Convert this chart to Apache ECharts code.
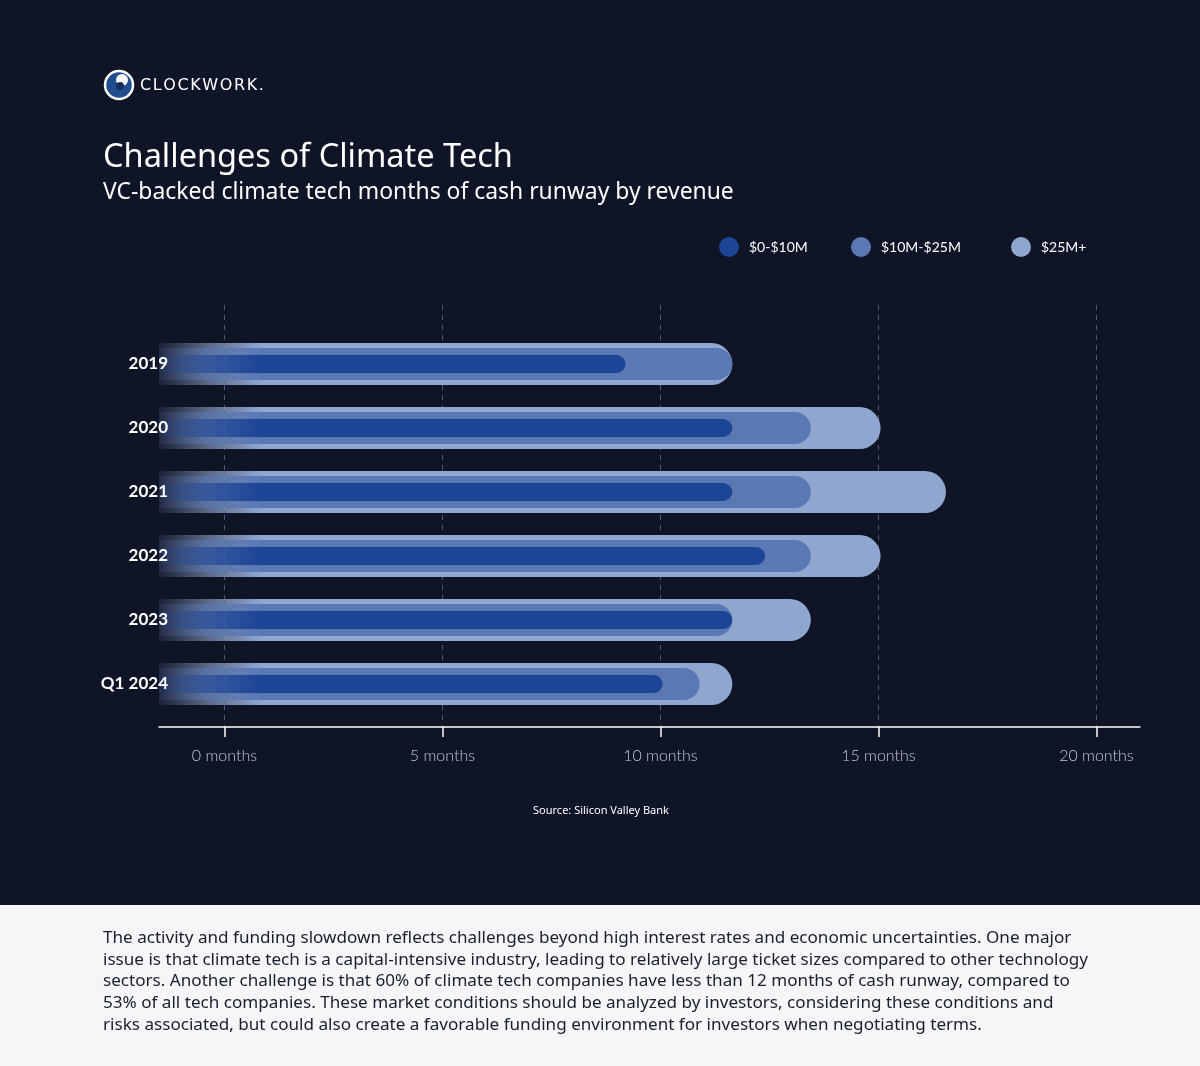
<!DOCTYPE html>
<html><head><meta charset="utf-8">
<script src="https://cdn.jsdelivr.net/npm/echarts@6/dist/echarts.min.js"></script>
<style>html,body{margin:0;padding:0;background:#101427}#c{width:1200px;height:1066px}</style>
</head><body><div id="c"></div>
<script>
const categories = ['2019', '2020', '2021', '2022', '2023', 'Q1 2024'];
const seriesNames = ['$0-$10M', '$10M-$25M', '$25M+'];
const runway0to10 = [9.2, 11.65, 11.65, 12.4, 11.65, 10.05];
const runway10to25 = [11.65, 13.45, 13.45, 13.45, 11.65, 10.9];
const runway25plus = [11.65, 15.05, 16.55, 15.05, 13.45, 11.65];
const tickValues = [0, 5, 10, 15, 20];
const AXIS_MIN = -1.5, AXIS_MAX = 21;

const paragraph = [
  'The activity and funding slowdown reflects challenges beyond high interest rates and economic uncertainties. One major',
  'issue is that climate tech is a capital-intensive industry, leading to relatively large ticket sizes compared to other technology',
  'sectors. Another challenge is that 60% of climate tech companies have less than 12 months of cash runway, compared to',
  '53% of all tech companies. These market conditions should be analyzed by investors, considering these conditions and',
  'risks associated, but could also create a favorable funding environment for investors when negotiating terms.'
];

const colors = { dark: [29, 69, 150], mid: [91, 120, 180], light: [143, 166, 207] };
function rgba(c, a) { return 'rgba(' + c[0] + ',' + c[1] + ',' + c[2] + ',' + a + ')'; }
function fade(c) {
  return new echarts.graphic.LinearGradient(150, 0, 262, 0, [
    { offset: 0, color: rgba(c, 0) },
    { offset: 0.55, color: rgba(c, 0.62) },
    { offset: 1, color: rgba(c, 1) }
  ], true);
}

const levels = [
  { name: seriesNames[2], data: runway25plus, c: colors.light, w: 42, axis: 0 },
  { name: seriesNames[1], data: runway10to25, c: colors.mid, w: 32, axis: 1 },
  { name: seriesNames[0], data: runway0to10, c: colors.dark, w: 18, axis: 2 }
];

const series = [];
levels.forEach(function (lv, i) {
  series.push({
    name: 'lead' + i, type: 'bar', xAxisIndex: 1, yAxisIndex: lv.axis, stack: 's' + i,
    barWidth: lv.w, data: categories.map(function () { return AXIS_MIN; }),
    itemStyle: { color: fade(lv.c), borderRadius: 0 }, silent: true
  });
  series.push({
    name: lv.name, type: 'bar', xAxisIndex: 1, yAxisIndex: lv.axis, stack: 's' + i,
    barWidth: lv.w, data: lv.data,
    itemStyle: { color: fade(lv.c), borderRadius: [0, lv.w / 2, lv.w / 2, 0] }, silent: true
  });
});

const chart = echarts.init(document.getElementById('c'), null, { renderer: 'canvas' });
const hs = '\u200A';
const graphic = [
  { type: 'rect', shape: { x: 0, y: 905, width: 1200, height: 161 }, style: { fill: '#f5f6f8' }, z: -1 },
  { type: 'circle', shape: { cx: 119, cy: 85, r: 14 }, style: { fill: '#1f4d8f', stroke: '#ffffff', lineWidth: 2.5 } },
  { type: 'circle', shape: { cx: 122, cy: 80, r: 6 }, style: { fill: '#ffffff' } },
  { type: 'circle', shape: { cx: 120, cy: 86, r: 4 }, style: { fill: '#14305e' } },
  { type: 'text', x: 140, y: 86, style: { text: 'CLOCKWORK.'.split('').join(hs), fill: '#ffffff', font: '16px "DejaVu Sans"', verticalAlign: 'middle' } },
  { type: 'text', x: 103, y: 158, style: { text: 'Challenges of Climate Tech', fill: '#ffffff', font: '32.5px "Noto Sans"', verticalAlign: 'middle' } },
  { type: 'text', x: 103, y: 192, style: { text: 'VC-backed climate tech months of cash runway by revenue', fill: '#ffffff', font: '22.9px "Noto Sans"', verticalAlign: 'middle' } },
  { type: 'text', x: 601, y: 811, style: { text: 'Source: Silicon Valley Bank', fill: '#ffffff', font: '11px "Noto Sans"', align: 'center', verticalAlign: 'middle' } }
];
paragraph.forEach(function (line, i) {
  graphic.push({ type: 'text', x: 103, y: 938 + i * 21.8, style: { text: line, fill: '#1b1e2c', font: '17.1px "Noto Sans"', verticalAlign: 'middle' } });
});

const legendLefts = [714, 846, 1006];
const legendColors = [colors.dark, colors.mid, colors.light];
const legends = seriesNames.map(function (n, i) {
  return {
    left: legendLefts[i], top: 232, itemWidth: 20, itemHeight: 20, icon: 'circle',
    selectedMode: false,
    textStyle: { color: '#ffffff', fontFamily: 'Lato', fontSize: 14, padding: [0, 0, 0, 5] },
    data: [{ name: n, itemStyle: { color: rgba(legendColors[i], 1) } }]
  };
});

chart.setOption({
  backgroundColor: '#101427',
  animation: false,
  legend: legends,
  grid: [
    { left: 159, right: 60, top: 305, bottom: 339 },
    { left: 159, right: 60, top: 332, bottom: 350 }
  ],
  xAxis: [
    {
      gridIndex: 0, type: 'value', min: AXIS_MIN, max: AXIS_MAX,
      axisLine: { show: true, lineStyle: { color: '#ffffff', width: 1.5 } },
      axisTick: { show: true, length: 10, customValues: tickValues, lineStyle: { color: '#ffffff', width: 1.5 } },
      axisLabel: { customValues: tickValues, formatter: '{value} months', color: '#c3c7d3', fontFamily: 'Lato', fontWeight: 300, fontSize: 16, margin: 21 },
      splitLine: { show: true, lineStyle: { color: '#50566c', type: [5, 5], width: 1 } }
    },
    { gridIndex: 1, type: 'value', min: AXIS_MIN, max: AXIS_MAX, show: false }
  ],
  yAxis: [
    {
      gridIndex: 1, type: 'category', data: categories, inverse: true, z: 10,
      axisLine: { show: false }, axisTick: { show: false }, splitLine: { show: false },
      axisLabel: { color: '#ffffff', fontFamily: 'Lato', fontWeight: 'bold', fontSize: 17, margin: -9 }
    },
    { gridIndex: 1, type: 'category', data: categories, inverse: true, show: false },
    { gridIndex: 1, type: 'category', data: categories, inverse: true, show: false },
    { gridIndex: 0, type: 'value', min: 0, max: 1, show: false }
  ],
  series: series,
  graphic: graphic
});
</script>
</body></html>
